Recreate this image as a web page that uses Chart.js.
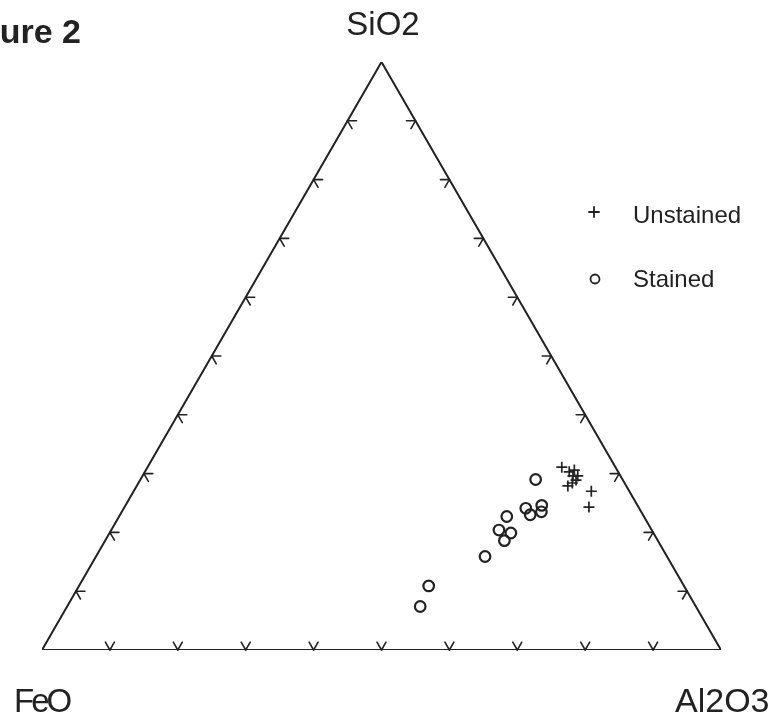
<!DOCTYPE html>
<html>
<head>
<meta charset="utf-8">
<title>Figure 2</title>
<script src="https://cdn.jsdelivr.net/npm/chart.js@4.4.1/dist/chart.umd.min.js"></script>
<style>
  body { margin: 0; background: #fff; }
  canvas { display: block; }
</style>
</head>
<body>
<canvas id="ternaryChart" width="776" height="723"></canvas>
<script>
  // Corner labels and series names
  const apexLabel = 'SiO2';
  const leftLabel = 'FeO';
  const rightLabel = 'Al2O3';
  const seriesNames = ['Unstained', 'Stained'];
  const tickValues = [10, 20, 30, 40, 50, 60, 70, 80, 90];

  // Unstained (+) compositions in %, FeO is the remainder
  const unstainedSiO2 = [31.1, 30.3, 30.6, 29.6, 29.6, 28.9, 28.4, 27.9, 27.0, 24.3];
  const unstainedAl2O3 = [61.0, 62.5, 63.1, 63.4, 64.1, 64.2, 63.9, 63.5, 67.4, 68.4];

  // Stained (o) compositions
  const stainedSiO2 = [29.0, 24.1, 24.6, 23.0, 23.5, 22.7, 20.4, 19.9, 18.6, 15.9, 10.9, 7.4];
  const stainedAl2O3 = [58.2, 59.2, 61.3, 60.4, 61.8, 57.1, 57.1, 59.1, 58.8, 57.3, 51.5, 52.0];

  const H = Math.sqrt(3) / 2;
  const ink = '#222';
  const fontFamily = '"Liberation Sans", Arial, Helvetica, sans-serif';

  // ternary (SiO2, Al2O3) -> cartesian, FeO corner at origin
  function toXY(si, al) {
    return { x: al + si / 2, y: si * H };
  }

  // Tick marks and text drawn on top of the triangle
  const ternaryDecor = {
    id: 'ternaryDecor',
    afterDatasetsDraw(chart) {
      const ctx = chart.ctx;
      const xs = chart.scales.x, ys = chart.scales.y;
      const px = p => [xs.getPixelForValue(p.x), ys.getPixelForValue(p.y)];
      const len = 9;

      ctx.save();
      ctx.strokeStyle = ink;
      ctx.lineWidth = 1.6;
      ctx.lineCap = 'round';

      function arms(pt, dirs) {
        const [x0, y0] = px(pt);
        dirs.forEach(d => {
          ctx.beginPath();
          ctx.moveTo(x0, y0);
          ctx.lineTo(x0 + d[0] * len, y0 + d[1] * len);
          ctx.stroke();
        });
      }

      tickValues.forEach(t => {
        arms(toXY(0, t), [[-0.5, -H], [0.5, -H]]);      // bottom edge
        arms(toXY(t, 0), [[1, 0], [0.5, H]]);           // FeO-SiO2 edge
        arms(toXY(t, 100 - t), [[-1, 0], [-0.5, H]]);   // Al2O3-SiO2 edge
      });

      // legend
      ctx.lineWidth = 1.8;
      ctx.beginPath();
      ctx.moveTo(589, 212); ctx.lineTo(599, 212);
      ctx.moveTo(594, 207); ctx.lineTo(594, 217);
      ctx.stroke();
      ctx.beginPath();
      ctx.arc(595, 279, 4.5, 0, Math.PI * 2);
      ctx.stroke();

      ctx.fillStyle = ink;
      ctx.textBaseline = 'alphabetic';
      ctx.textAlign = 'left';
      ctx.font = '24px ' + fontFamily;
      ctx.fillText(seriesNames[0], 633, 223);
      ctx.fillText(seriesNames[1], 633, 287);

      // corner labels
      ctx.font = '33px ' + fontFamily;
      ctx.textAlign = 'center';
      ctx.fillText(apexLabel, 383, 35);
      ctx.textAlign = 'left';
      ctx.font = '34px ' + fontFamily;
      ctx.fillText(rightLabel, 675, 712);
      ctx.font = '33px ' + fontFamily;
      ctx.letterSpacing = '-3px';
      ctx.fillText(leftLabel, 14, 712);
      ctx.letterSpacing = '0px';

      // figure caption, cut off at the page edge
      ctx.font = 'bold 34px ' + fontFamily;
      ctx.textAlign = 'right';
      ctx.fillText('Figure 2', 81, 43);
      ctx.restore();
    }
  };

  const ctx = document.getElementById('ternaryChart').getContext('2d');
  new Chart(ctx, {
    type: 'scatter',
    data: {
      datasets: [
        {
          label: 'frame',
          data: [toXY(0, 0), toXY(0, 100), toXY(100, 0), toXY(0, 0)],
          showLine: true,
          borderColor: ink,
          borderWidth: 2,
          pointRadius: 0,
          fill: false
        },
        {
          label: seriesNames[0],
          data: unstainedSiO2.map((s, i) => toXY(s, unstainedAl2O3[i])),
          pointStyle: 'cross',
          pointRadius: 5.5,
          borderColor: ink,
          borderWidth: 1.7,
          clip: false
        },
        {
          label: seriesNames[1],
          data: stainedSiO2.map((s, i) => toXY(s, stainedAl2O3[i])),
          pointStyle: 'circle',
          pointRadius: 5.3,
          borderColor: ink,
          backgroundColor: 'rgba(0,0,0,0)',
          borderWidth: 2.2,
          clip: false
        }
      ]
    },
    options: {
      responsive: false,
      animation: false,
      layout: { padding: { left: 42, right: 55, top: 62, bottom: 73 } },
      scales: {
        x: { type: 'linear', min: 0, max: 100, display: false },
        y: { type: 'linear', min: 0, max: 100 * H, display: false }
      },
      plugins: {
        legend: { display: false },
        tooltip: { enabled: false }
      }
    },
    plugins: [ternaryDecor]
  });
</script>
</body>
</html>
